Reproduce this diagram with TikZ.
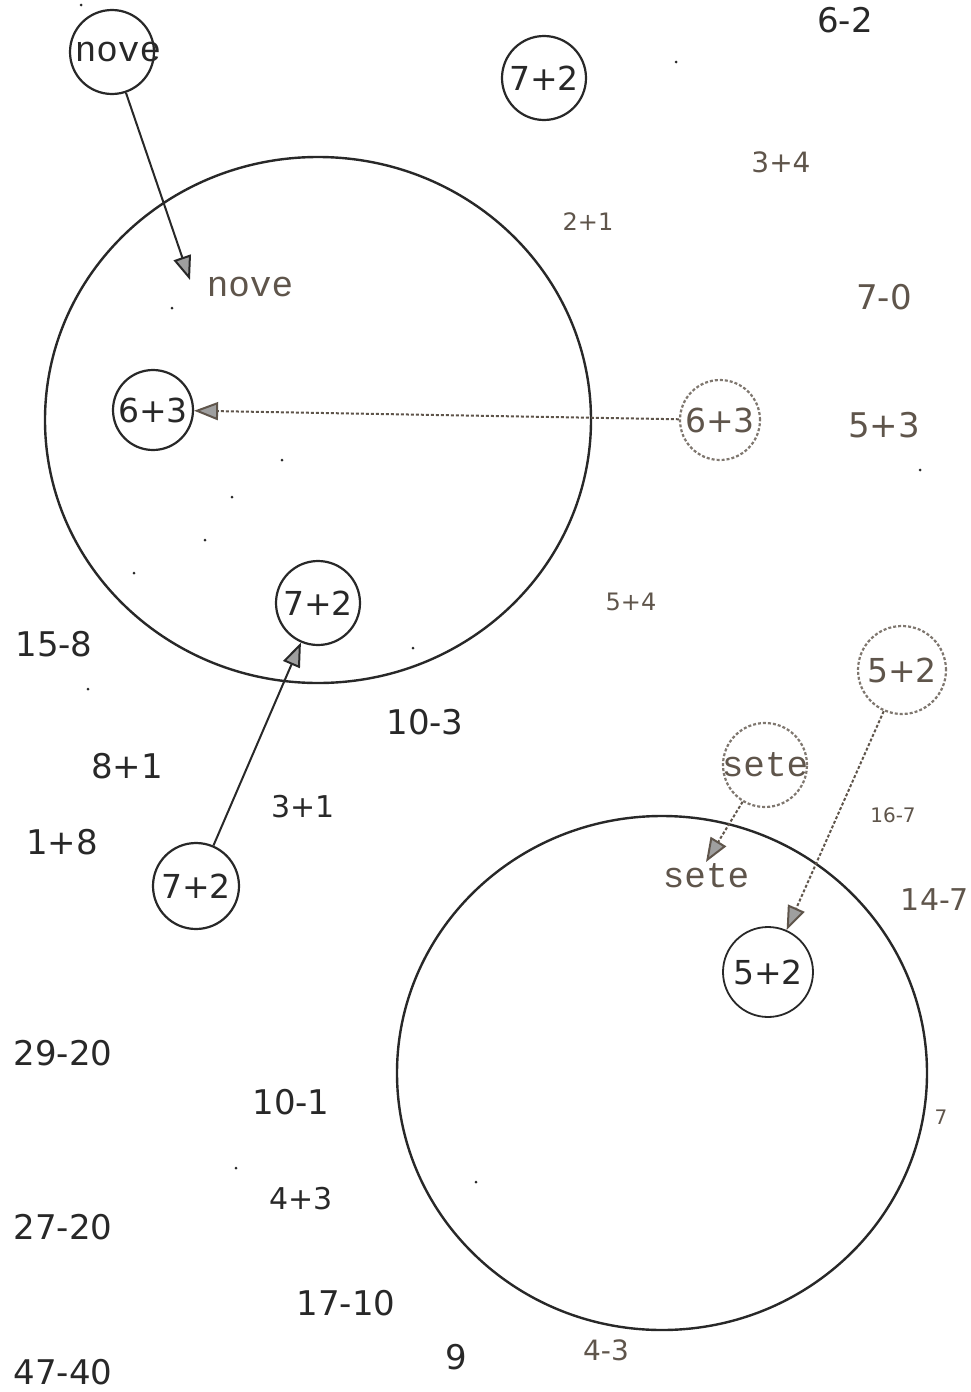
\documentclass[tikz,border=0pt]{standalone}
\usepackage{fontspec}
\setmainfont{DejaVu Sans}
\newfontfamily\tw{Liberation Mono}
\usetikzlibrary{arrows.meta,shapes.geometric}
\definecolor{ink}{RGB}{40,40,40}
\definecolor{faint}{RGB}{95,85,75}
\tikzset{
  bigc/.style={draw=ink,line width=2.4pt,ellipse,inner sep=0pt},
  smallc/.style={draw=ink,line width=2.2pt,circle,inner sep=0pt,minimum size=84pt,text=ink,font=\fontsize{33}{35}\selectfont},
  faintc/.style={smallc,draw=faint!80,densely dashed,text=faint},
  num/.style={text=ink,font=\fontsize{34}{36}\selectfont,inner sep=0pt},
  numsm/.style={text=faint,font=\fontsize{24}{26}\selectfont,inner sep=0pt},
  word/.style={text=faint,font=\tw\fontsize{36}{38}\selectfont,inner sep=0pt},
  conn/.style={draw=ink,line width=2pt,-{Triangle[length=24pt,width=18pt,fill=gray!75]}},
  fconn/.style={conn,draw=faint,densely dashed},
  dot/.style={fill=ink,circle,inner sep=0pt,minimum size=3pt}
}
\begin{document}
\begin{tikzpicture}[x=1pt,y=-1pt]
\useasboundingbox (0,0) rectangle (970,1392);
% big circles
\node[bigc,minimum width=546pt,minimum height=526pt] (big1) at (318,420) {};
\node[bigc,minimum width=530pt,minimum height=514pt] (big2) at (662,1073) {};
% small circled nodes
\node[smallc] (nove) at (112,52) {\makebox[0pt]{\hspace{12pt}\tw\fontsize{36}{38}\selectfont nove}};
\node[smallc] (top72) at (544,78) {7+2};
\node[smallc,minimum size=80pt] (six3L) at (153,410) {6+3};
\node[faintc,minimum size=80pt] (six3R) at (720,420) {\makebox[0pt]{6+3}};
\node[smallc] (in72) at (318,603) {7+2};
\node[smallc,minimum size=86pt] (bot72) at (196,886) {7+2};
\node[faintc,minimum size=88pt] (five2T) at (902,670) {5+2};
\node[faintc] (sete) at (765,765) {\makebox[0pt]{\tw\fontsize{36}{38}\selectfont sete}};
\node[smallc,minimum size=90pt,line width=1.8pt] (five2I) at (768,972) {5+2};
% word labels
\node[word] (novelab) at (250,287) {nove};
\node[word] (setelab) at (706,876) {sete};
\coordinate (novetip) at (190,280);
\coordinate (setetip) at (706,862);
% connectors
\draw[conn] (nove) -- (novetip);
\draw[fconn] (six3R) -- (six3L);
\draw[conn] (bot72) -- (in72);
\draw[fconn] (sete) -- (setetip);
\draw[fconn] (five2T) -- (five2I);
% numbers
\node[num] (t62) at (845,20) {6-2};
\node[numsm,font=\fontsize{28}{30}\selectfont] (t34) at (781,162) {3+4};
\node[numsm] (t21) at (588,222) {2+1};
\node[num,text=faint] (t70) at (884,297) {7-0};
\node[num,text=faint] (t53) at (884,425) {5+3};
\node[numsm] (t54) at (631,602) {5+4};
\node[num] (t158) at (54,644) {15-8};
\node[num] (t103) at (425,722) {10-3};
\node[num] (t81) at (127,766) {8+1};
\node[num,font=\fontsize{30}{32}\selectfont] (t31) at (303,807) {3+1};
\node[num] (t18) at (62,842) {1+8};
\node[numsm,font=\fontsize{20}{22}\selectfont] (t167) at (893,815) {16-7};
\node[num,text=faint,font=\fontsize{30}{32}\selectfont] (t147) at (935,900) {14-7};
\node[num] (t2920) at (63,1053) {29-20};
\node[num] (t101) at (291,1102) {10-1};
\node[num,font=\fontsize{30}{32}\selectfont] (t43) at (301,1199) {4+3};
\node[num] (t2720) at (63,1227) {27-20};
\node[num] (t1710) at (346,1303) {17-10};
\node[num] (t9) at (456,1357) {9};
\node[numsm,font=\fontsize{28}{30}\selectfont] (t4m3) at (606,1350) {4-3};
\node[num] (t4740) at (63,1372) {47-40};
\node[numsm,font=\fontsize{20}{22}\selectfont] (t7) at (941,1117) {7};
% stray dots
\node[dot] at (81,5) {};
\node[dot] at (676,62) {};
\node[dot] at (172,308) {};
\node[dot] at (282,460) {};
\node[dot] at (232,497) {};
\node[dot] at (205,540) {};
\node[dot] at (134,573) {};
\node[dot] at (413,648) {};
\node[dot] at (88,689) {};
\node[dot] at (920,470) {};
\node[dot] at (236,1168) {};
\node[dot] at (476,1182) {};
\end{tikzpicture}
\end{document}
